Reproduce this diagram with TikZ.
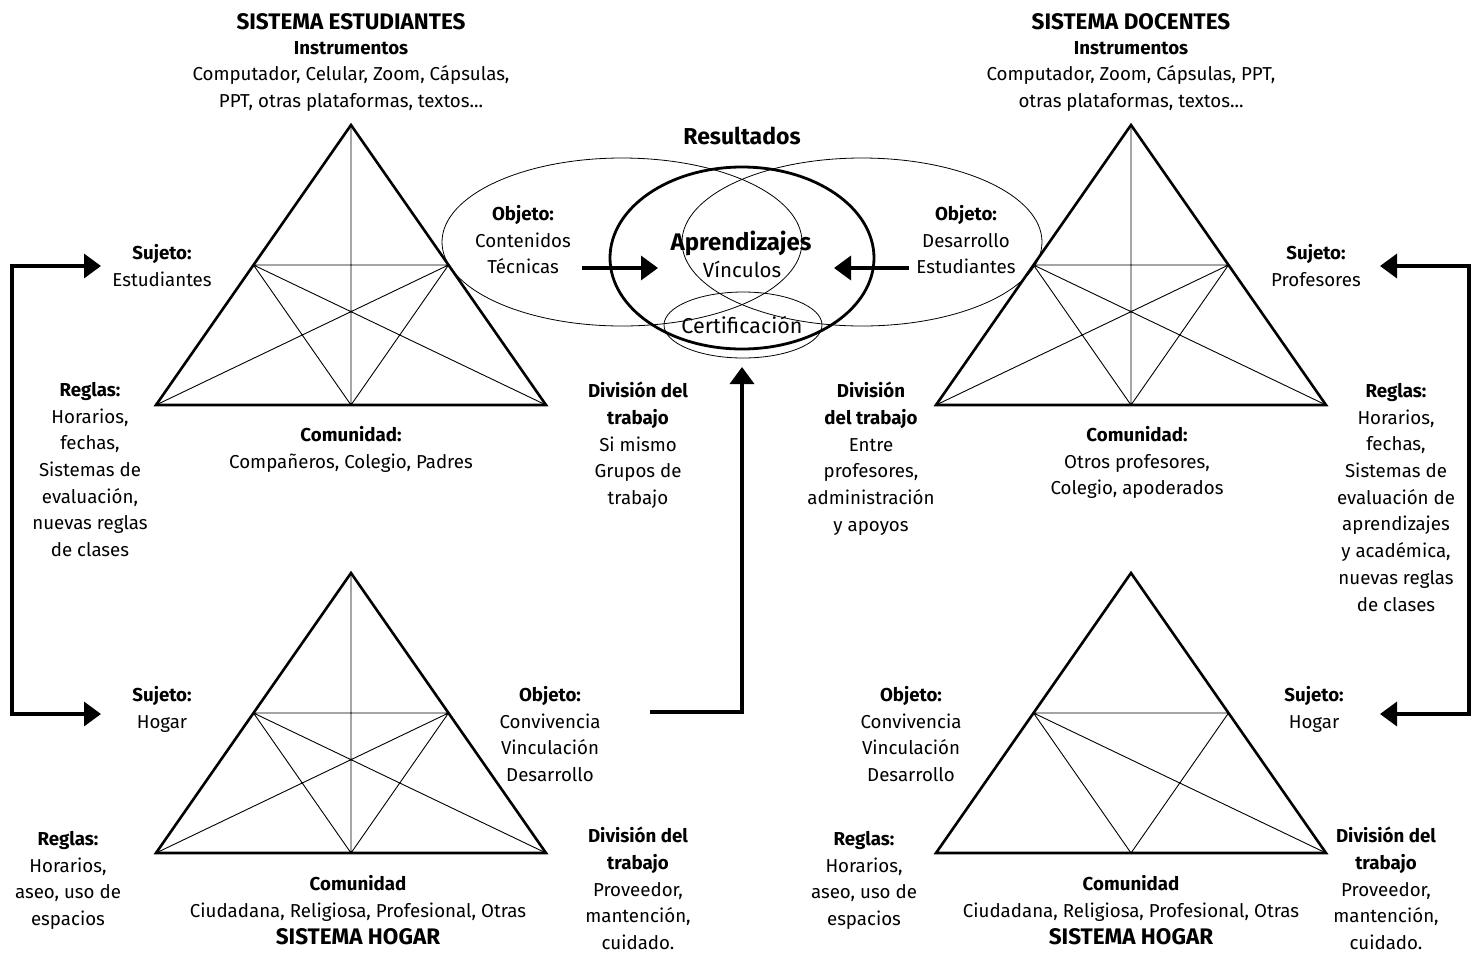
\documentclass[tikz,border=0pt]{standalone}
\usepackage{fontspec}
\setmainfont{Fira Sans}
\usetikzlibrary{arrows.meta,shapes.geometric}
\newcommand{\tsize}{\fontsize{18.7}{26.7}\selectfont}
\newcommand{\tristar}[2]{%
  \begin{scope}[shift={(#1,#2)}]
    \draw[innerline] (-97.5,140) -- (97.5,140) (0,0) -- (0,280)
      (-97.5,140) -- (0,280) -- (97.5,140)
      (-97.5,140) -- (195,280) (97.5,140) -- (-195,280);
    \draw[triline] (0,0) -- (-195,280) -- (195,280) -- cycle;
  \end{scope}}
\newcommand{\trihalf}[2]{%
  \begin{scope}[shift={(#1,#2)}]
    \draw[innerline] (-97.5,140) -- (97.5,140)
      (-97.5,140) -- (0,280) -- (97.5,140)
      (-97.5,140) -- (195,280);
    \draw[triline] (0,0) -- (-195,280) -- (195,280) -- cycle;
  \end{scope}}
\begin{document}
\begin{tikzpicture}[x=1pt,y=-1pt,
  innerline/.style={line width=0.9pt},
  triline/.style={line width=2.6pt, line join=miter},
  blk/.style={align=center, inner sep=0pt, anchor=north, font=\tsize},
  one/.style={inner sep=0pt, anchor=base, font=\tsize},
  hd/.style={inner sep=0pt, anchor=base, font=\fontsize{22.5}{26}\selectfont\bfseries},
  oval/.style={draw, ellipse, inner sep=0pt, line width=0.8pt},
  conn/.style={line width=3.5pt, line join=miter, -{Triangle[length=17pt,width=24pt]}},
  bracket/.style={line width=3.5pt, line join=miter, {Triangle[length=17pt,width=24pt]}-{Triangle[length=17pt,width=24pt]}}]
\useasboundingbox (0,0) rectangle (1481,954);

% triangles
\tristar{351}{125}
\tristar{1131}{125}
\tristar{351}{573}
\trihalf{1131}{573}

% result ellipses
\node[oval, minimum width=360pt, minimum height=168pt] (ovE) at (622,242) {};
\node[oval, minimum width=360pt, minimum height=168pt] (ovD) at (862,242) {};
\node[oval, minimum width=158pt, minimum height=66pt] (ovC) at (743,325) {};
\node[draw, ellipse, inner sep=0pt, line width=2.8pt, minimum width=264pt, minimum height=182pt] (ovA) at (742,258) {};

% titles
\node[hd] (sysE) at (351,29.5) {SISTEMA ESTUDIANTES};
\node[hd] (sysD) at (1131,29.5) {SISTEMA DOCENTES};
\node[hd] (sysH1) at (358,944.5) {SISTEMA HOGAR};
\node[hd] (sysH2) at (1131,944.5) {SISTEMA HOGAR};
\node[hd, font=\fontsize{23}{26}\selectfont\bfseries] (res) at (742,144) {Resultados};
\node[hd, font=\fontsize{24}{28}\selectfont\bfseries] (apr) at (741,250.3) {Aprendizajes};
\node[one, font=\fontsize{20.5}{24}\selectfont] (vinc) at (742,277) {Vínculos};
\node[one, font=\fontsize{21.5}{24}\selectfont] (certT) at (742,333.5) {Certificación};

% text blocks
\node[blk] (instE) at (351,41) {\textbf{Instrumentos}\\Computador, Celular, Zoom, Cápsulas,\\PPT, otras plataformas, textos...};
\node[blk] (instD) at (1131,41) {\textbf{Instrumentos}\\Computador, Zoom, Cápsulas, PPT,\\otras plataformas, textos...};
\node[blk] (objE) at (523,205) {\textbf{Objeto:}\\Contenidos\\Técnicas};
\node[blk] (objD) at (966,205) {\textbf{Objeto:}\\Desarrollo\\Estudiantes};
\node[blk] (sujE) at (162,244) {\textbf{Sujeto:}\\Estudiantes};
\node[blk] (sujD) at (1316,244) {\textbf{Sujeto:}\\Profesores};
\node[blk] (regE) at (90,382) {\textbf{Reglas:}\\Horarios,\\fechas,\\Sistemas de\\evaluación,\\nuevas reglas\\de clases};
\node[blk] (comE) at (351,426) {\textbf{Comunidad:}\\Compañeros, Colegio, Padres};
\node[blk] (divE) at (638,382) {\textbf{División del}\\\textbf{trabajo}\\Si mismo\\Grupos de\\trabajo};
\node[blk] (divD) at (871,382) {\textbf{División}\\\textbf{del trabajo}\\Entre\\profesores,\\administración\\y apoyos};
\node[blk] (comD) at (1137,426) {\textbf{Comunidad:}\\Otros profesores,\\Colegio, apoderados};
\node[blk] (regD) at (1396,383) {\textbf{Reglas:}\\Horarios,\\fechas,\\Sistemas de\\evaluación de\\aprendizajes\\y académica,\\nuevas reglas\\de clases};
\node[blk] (sujH1) at (162,686) {\textbf{Sujeto:}\\Hogar};
\node[blk] (objH1) at (550,686) {\textbf{Objeto:}\\Convivencia\\Vinculación\\Desarrollo};
\node[blk] (regH1) at (68,831) {\textbf{Reglas:}\\Horarios,\\aseo, uso de\\espacios};
\node[blk] (comH1) at (358,875) {\textbf{Comunidad}\\Ciudadana, Religiosa, Profesional, Otras};
\node[blk] (divH1) at (638,827) {\textbf{División del}\\\textbf{trabajo}\\Proveedor,\\mantención,\\cuidado.};
\node[blk] (objH2) at (911,686) {\textbf{Objeto:}\\Convivencia\\Vinculación\\Desarrollo};
\node[blk] (sujH2) at (1314,686) {\textbf{Sujeto:}\\Hogar};
\node[blk] (regH2) at (864,831) {\textbf{Reglas:}\\Horarios,\\aseo, uso de\\espacios};
\node[blk] (comH2) at (1131,875) {\textbf{Comunidad}\\Ciudadana, Religiosa, Profesional, Otras};
\node[blk] (divH2) at (1386,827) {\textbf{División del}\\\textbf{trabajo}\\Proveedor,\\mantención,\\cuidado.};

% connectors
\coordinate (aEs) at (582,268);
\coordinate (aEt) at (658,268);
\coordinate (aDs) at (909,268);
\coordinate (aDt) at (834,268);
\coordinate (hStart) at (650,712);
\coordinate (hTip) at (742,367);
\coordinate (lTop) at (101,266);
\coordinate (lBot) at (101,714);
\coordinate (rTop) at (1380,266);
\coordinate (rBot) at (1380,714);
\draw[conn] (aEs) -- (aEt);
\draw[conn] (aDs) -- (aDt);
\draw[conn] (hStart) -| (hTip);
\draw[bracket] (lTop) -- (12,266) |- (lBot);
\draw[bracket] (rTop) -- (1469,266) |- (rBot);
\end{tikzpicture}
\end{document}
